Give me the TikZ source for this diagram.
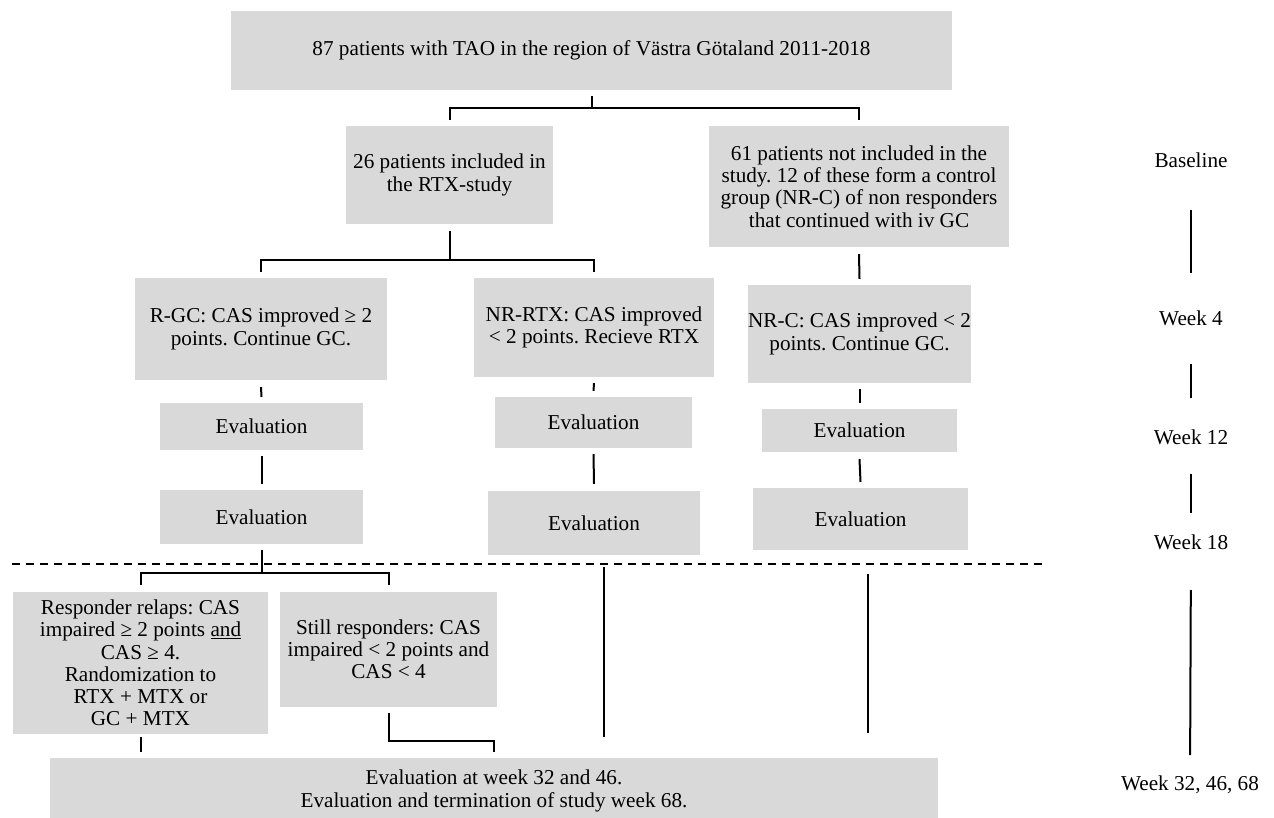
\documentclass[tikz,border=0pt]{standalone}
\usepackage{fontspec}
\setmainfont{Liberation Serif}
\usetikzlibrary{calc}
\definecolor{boxgray}{HTML}{D9D9D9}
\frenchspacing
\tikzset{
  box/.style={fill=boxgray, draw=none, inner sep=0pt, align=center, font=\fontsize{21.2}{22.2}\selectfont},
  wk/.style={inner sep=0pt, font=\fontsize{21.2}{22.2}\selectfont},
  conn/.style={line width=2pt},
  sepline/.style={line width=2pt, dash pattern=on 8pt off 6pt},
}
\begin{document}
\begin{tikzpicture}[x=1pt,y=-1pt]
\useasboundingbox (0,0) rectangle (1274,818);
% boxes
\node[box, minimum width=721pt, minimum height=79pt] (top) at (591.5,50.5) {87 patients with TAO in the region of Västra Götaland 2011-2018};
\node[box, minimum width=207pt, minimum height=98pt] (n26) at (449.5,175) {26 patients included in\\the RTX-study};
\node[box, minimum width=300pt, minimum height=121pt] (n61) at (859,186.5) {61 patients not included in the\\study. 12 of these form a control\\group (NR-C) of non responders\\that continued with iv GC};
\node[box, minimum width=252pt, minimum height=102pt] (rgc) at (261,329) {R-GC: CAS improved ≥ 2\\points. Continue GC.};
\node[box, minimum width=240pt, minimum height=99pt] (nrrtx) at (594,327.5) {NR-RTX: CAS improved\\< 2 points. Recieve RTX};
\node[box, minimum width=221pt, minimum height=98pt] (nrc) at (859.5,334) {NR-C: CAS improved < 2\\points. Continue GC.};
\node[box, minimum width=203pt, minimum height=47pt] (e1l) at (261.5,426.5) {Evaluation};
\node[box, minimum width=203pt, minimum height=54pt] (e2l) at (261.5,517) {Evaluation};
\node[box, minimum width=197pt, minimum height=51pt] (e1m) at (593.5,422.5) {Evaluation};
\node[box, minimum width=212pt, minimum height=64pt] (e2m) at (594,523) {Evaluation};
\node[box, minimum width=195pt, minimum height=43pt] (e1r) at (859.5,430.5) {Evaluation};
\node[box, minimum width=215pt, minimum height=62pt] (e2r) at (860.5,519) {Evaluation};
\node[box, minimum width=255pt, minimum height=142pt] (relaps) at (140.5,663) {Responder relaps: CAS\\impaired ≥ 2 points \underline{and}\\CAS ≥ 4.\\Randomization to\\RTX + MTX or\\GC + MTX};
\node[box, minimum width=217pt, minimum height=115pt] (still) at (388.5,649.5) {Still responders: CAS\\impaired < 2 points and\\CAS < 4};
\node[box, minimum width=888pt, minimum height=66pt] (final) at (494,791) {Evaluation at week 32 and 46.\\Evaluation and termination of study week 68.};
% week labels
\node[wk] (base) at (1191,160) {Baseline};
\node[wk] (w4) at (1191,318) {Week 4};
\node[wk] (w12) at (1191,437) {Week 12};
\node[wk] (w18) at (1191,542) {Week 18};
\node[wk] (w32) at (1190,785) {Week 32, 46, 68};
\draw[conn, shorten <=50pt, shorten >=45pt] (base.center) -- (w4.center);
\draw[conn, shorten <=46pt, shorten >=39pt] (w4.center) -- (w12.center);
\draw[conn, shorten <=37pt, shorten >=29pt] (w12.center) -- (w18.center);
\draw[conn, shorten <=48pt, shorten >=30pt] (w18.center) -- (w32.center);
% separator
\coordinate (sepL) at (12,564);
\coordinate (sepR) at (1047,564);
\draw[sepline] (sepL) -- (sepR);
% connectors
\draw[conn] ($(top.south)+(0,6)$) -- ($(top.south)+(0,18)$) coordinate (j1);
\draw[conn] ($(n26.north)+(0,-6)$) |- (j1) -| ($(n61.north)+(0,-6)$);
\draw[conn] ($(n26.south)+(0,7)$) -- ($(n26.south)+(0,36)$) coordinate (j2);
\draw[conn] ($(rgc.north)+(0,-6)$) |- (j2) -| ($(nrrtx.north)+(0,-6)$);
\draw[conn] ($(n61.south)+(0,7)$) -- ($(nrc.north)+(0,-6)$);
\draw[conn] ($(rgc.south)+(0,7)$) -- ($(e1l.north)+(0,-6)$);
\draw[conn] ($(nrrtx.south)+(0,6)$) -- ($(e1m.north)+(0,-6)$);
\draw[conn] ($(nrc.south)+(0,6)$) -- ($(e1r.north)+(0,-6)$);
\draw[conn] ($(e1l.south)+(0,6)$) -- ($(e2l.north)+(0,-6)$);
\draw[conn] ($(e1m.south)+(0,6)$) -- ($(e2m.north)+(0,-7)$);
\draw[conn] ($(e1r.south)+(0,7)$) -- ($(e2r.north)+(0,-6)$);
\draw[conn] ($(e2l.south)+(0,6)$) -- ($(e2l.south)+(0,29)$) coordinate (j3);
\draw[conn] ($(relaps.north)+(0,-7)$) |- (j3) -| ($(still.north)+(0,-7)$);
\draw[conn] ($(relaps.south)+(0,3)$) -- ($(relaps.south |- final.north)+(0,-6)$);
\draw[conn] ($(still.south)+(0,6)$) |- ($(final.north)+(0,-17)$) -- ($(final.north)+(0,-6)$);
\draw[conn] ($(e2m.south)+(10,12)$) -- ($(e2m.south |- final.north)+(10,-21)$);
\draw[conn] ($(e2r.south)+(7.5,24)$) -- ($(e2r.south |- final.north)+(7.5,-25)$);
\end{tikzpicture}
\end{document}
